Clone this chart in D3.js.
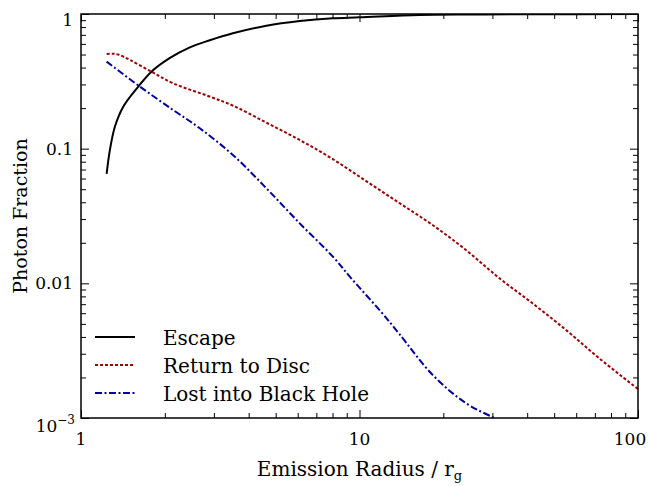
<!DOCTYPE html>
<html>
<head>
<meta charset="utf-8">
<script src="https://cdn.jsdelivr.net/npm/d3@7"></script>
<style>
  body { margin: 0; background: #fff; }
</style>
</head>
<body>
<div id="viz"></div>
<script>
// radius values (r_g) and photon fractions
var escR   = [1.236, 1.27, 1.324, 1.418, 1.606, 1.79, 2.08, 2.46, 2.9, 3.51, 4.63, 6.1, 8.02, 10, 16.4, 25, 40, 100];
var escF   = [0.065, 0.098, 0.146, 0.205, 0.289, 0.373, 0.47, 0.565, 0.638, 0.719, 0.819, 0.887, 0.93, 0.945, 0.983, 0.992, 0.996, 0.999];

var retR   = [1.236, 1.3, 1.36, 1.498, 1.79, 2.14, 2.86, 3.51, 4.63, 6.1, 8.02, 10.57, 13.9, 18.3, 24.1, 31.8, 41.8, 55.1, 72.5, 100];
var retF   = [0.505, 0.507, 0.5, 0.456, 0.373, 0.306, 0.246, 0.209, 0.156, 0.116, 0.0836, 0.0574, 0.0395, 0.0271, 0.0177, 0.0109, 0.00711, 0.00451, 0.00278, 0.00164];

var lostR  = [1.236, 1.627, 2.14, 2.67, 3.51, 4.63, 6.1, 8.02, 9.34, 11.9, 13.9, 18.3, 24.1, 30.5, 36];
var lostF  = [0.443, 0.289, 0.194, 0.1417, 0.0898, 0.0508, 0.0279, 0.0158, 0.0109, 0.0062, 0.00421, 0.00209, 0.00129, 0.001, 0.00085];

var seriesNames = ['Escape', 'Return to Disc', 'Lost into Black Hole'];

var xMajor = [1, 10, 100];
var yMajor = [1, 0.1, 0.01, 0.001];
var yLabels = ['1', '0.1', '0.01'];

var width = 649, height = 486,
    margin = { top: 14, right: 11, bottom: 68, left: 81 },
    serif = '"DejaVu Serif", serif';

var series = [
  { name: seriesNames[0], r: escR,  f: escF,  color: '#000000', dash: null },
  { name: seriesNames[1], r: retR,  f: retF,  color: '#a00000', dash: '3,2' },
  { name: seriesNames[2], r: lostR, f: lostF, color: '#0000a0', dash: '7,2.5,2,2.5' }
];

var xScale = d3.scaleLog().domain([1, 100]).range([margin.left, width - margin.right]);
var yScale = d3.scaleLog().domain([0.001, 1]).range([height - margin.bottom, margin.top]);

function minorTicks(lo, hi) {
  var out = [];
  for (var p = lo; p < hi; p++)
    for (var k = 2; k <= 9; k++) out.push(k * Math.pow(10, p));
  return out;
}
var xMinor = minorTicks(0, 2), yMinor = minorTicks(-3, 0);

var svg = d3.select('#viz').append('svg')
  .attr('width', width).attr('height', height)
  .style('font-family', serif);

svg.append('defs').append('clipPath').attr('id', 'plotclip')
  .append('rect')
  .attr('x', margin.left).attr('y', margin.top)
  .attr('width', width - margin.left - margin.right)
  .attr('height', height - margin.top - margin.bottom);

var bottomY = height - margin.bottom, rightX = width - margin.right;

// ticks point inward on all four sides
function drawAxis(axis, tf) {
  var g = svg.append('g').attr('transform', tf).call(axis);
  g.select('.domain').remove();
  g.selectAll('line').attr('stroke', '#000').attr('stroke-width', 1);
  return g;
}
drawAxis(d3.axisBottom(xScale).tickValues(xMajor).tickSize(-8).tickFormat(''), 'translate(0,' + bottomY + ')');
drawAxis(d3.axisBottom(xScale).tickValues(xMinor).tickSize(-5).tickFormat(''), 'translate(0,' + bottomY + ')');
drawAxis(d3.axisTop(xScale).tickValues(xMajor).tickSize(-8).tickFormat(''), 'translate(0,' + margin.top + ')');
drawAxis(d3.axisTop(xScale).tickValues(xMinor).tickSize(-5).tickFormat(''), 'translate(0,' + margin.top + ')');
drawAxis(d3.axisLeft(yScale).tickValues(yMajor).tickSize(-8).tickFormat(''), 'translate(' + margin.left + ',0)');
drawAxis(d3.axisLeft(yScale).tickValues(yMinor).tickSize(-5).tickFormat(''), 'translate(' + margin.left + ',0)');
drawAxis(d3.axisRight(yScale).tickValues(yMajor).tickSize(-8).tickFormat(''), 'translate(' + rightX + ',0)');
drawAxis(d3.axisRight(yScale).tickValues(yMinor).tickSize(-5).tickFormat(''), 'translate(' + rightX + ',0)');

// curves
var line = d3.line()
  .x(function(d) { return xScale(d[0]); })
  .y(function(d) { return yScale(d[1]); })
  .curve(d3.curveCatmullRom.alpha(0.5));

var plot = svg.append('g').attr('clip-path', 'url(#plotclip)');
series.forEach(function(s) {
  var pts = s.r.map(function(r, i) { return [r, s.f[i]]; });
  plot.append('path')
    .attr('d', line(pts))
    .attr('fill', 'none')
    .attr('stroke', s.color)
    .attr('stroke-width', 2)
    .attr('stroke-dasharray', s.dash);
});

// frame
svg.append('rect')
  .attr('x', margin.left).attr('y', margin.top)
  .attr('width', rightX - margin.left).attr('height', bottomY - margin.top)
  .attr('fill', 'none').attr('stroke', '#000').attr('stroke-width', 1.5);

// tick labels
svg.selectAll('.xlab').data(xMajor).enter().append('text')
  .attr('x', function(d) { return xScale(d) - (d === 100 ? 8 : 0); })
  .attr('y', bottomY + 27)
  .attr('text-anchor', 'middle')
  .style('font-size', '17px')
  .text(function(d) { return d; });

svg.selectAll('.ylab').data(yLabels).enter().append('text')
  .attr('x', margin.left - 8)
  .attr('y', function(d, i) { return yScale(yMajor[i]) + (i === 0 ? 12 : 6); })
  .attr('text-anchor', 'end')
  .style('font-size', '17px')
  .text(function(d) { return d; });

var exp = svg.append('text')
  .attr('x', margin.left - 6)
  .attr('y', yScale(0.001) + 14)
  .attr('text-anchor', 'end')
  .style('font-size', '17px');
exp.append('tspan').text('10');
exp.append('tspan').attr('dy', -8).style('font-size', '12px').text('\u22123');

// axis titles
var xt = svg.append('text')
  .attr('x', (margin.left + rightX) / 2).attr('y', 476)
  .attr('text-anchor', 'middle')
  .style('font-size', '20px');
xt.append('tspan').text('Emission Radius / r');
xt.append('tspan').attr('dy', 4).style('font-size', '13px').text('g');

svg.append('text')
  .attr('transform', 'translate(27,' + ((margin.top + bottomY) / 2) + ') rotate(-90)')
  .attr('text-anchor', 'middle')
  .style('font-size', '19px')
  .text('Photon Fraction');

// legend
var legend = svg.append('g').selectAll('g').data(series).enter().append('g')
  .attr('transform', function(d, i) { return 'translate(95,' + (337 + i * 28) + ')'; });
legend.append('line')
  .attr('x1', 0).attr('x2', 40).attr('y1', 0).attr('y2', 0)
  .attr('stroke', function(d) { return d.color; })
  .attr('stroke-width', 2)
  .attr('stroke-dasharray', function(d) { return d.dash; });
legend.append('text')
  .attr('x', 68).attr('y', 8)
  .style('font-size', '20px')
  .text(function(d) { return d.name; });
</script>
</body>
</html>
